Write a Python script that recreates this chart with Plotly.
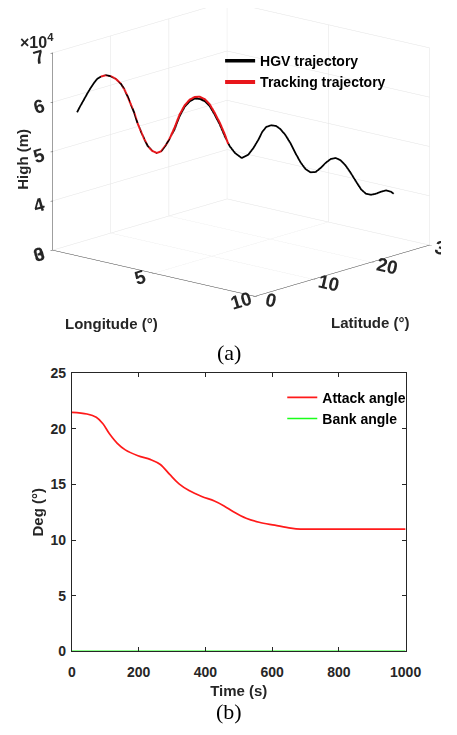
import plotly.graph_objects as go

# ---- (a) 3D trajectory data ----
hgv_lon = [1.00, 1.09, 1.18, 1.27, 1.36, 1.45, 1.53, 1.63, 1.76, 1.89, 2.03, 2.16, 2.25, 2.34,
           2.43, 2.52, 2.60, 2.69, 2.78, 2.87, 2.99, 3.11, 3.23, 3.36, 3.45, 3.58, 3.72, 3.85,
           3.99, 4.12, 4.25, 4.39, 4.52, 4.65, 4.79, 4.92, 5.05, 5.19, 5.37, 5.54, 5.68, 5.81,
           5.91, 6.02, 6.15, 6.28, 6.39, 6.52, 6.66, 6.79, 6.93, 7.06, 7.19, 7.33, 7.46, 7.59,
           7.73, 7.86, 7.99, 8.13, 8.26, 8.40, 8.53, 8.66, 8.80, 8.93, 9.06, 9.20, 9.33, 9.40]
hgv_lat = [0.73, 1.00, 1.27, 1.53, 1.80, 2.07, 2.33, 2.61, 3.01, 3.41, 3.81, 4.21, 4.47, 4.74,
           5.01, 5.28, 5.54, 5.81, 6.08, 6.34, 6.69, 7.07, 7.42, 7.82, 8.08, 8.48, 8.88, 9.29,
           9.69, 10.09, 10.49, 10.89, 11.29, 11.69, 12.09, 12.49, 12.89, 13.30, 13.83, 14.36,
           14.76, 15.16, 15.46, 15.78, 16.18, 16.58, 16.90, 17.30, 17.70, 18.11, 18.51, 18.91,
           19.31, 19.71, 20.11, 20.51, 20.91, 21.31, 21.71, 22.11, 22.52, 22.92, 23.32, 23.72,
           24.12, 24.52, 24.92, 25.32, 25.72, 25.93]
hgv_h = [58640, 59970, 61180, 62390, 63540, 64550, 65350, 65810, 66080, 65860, 65300, 64330,
         63250, 61760, 60040, 58350, 56310, 54610, 53040, 51670, 50640, 50160, 50500, 51820,
         52970, 54850, 57550, 59430, 60570, 61090, 61010, 60530, 59500, 57780, 55740, 53370,
         51330, 49950, 48920, 49570, 50920, 52590, 54140, 55150, 55480, 55320, 54700, 53530,
         51830, 49790, 47890, 46510, 45830, 45880, 46680, 47680, 48480, 48670, 48190, 47080,
         45580, 43880, 42300, 41340, 41120, 41310, 41700, 41970, 41670, 41260]

trk_lon = [1.63, 1.76, 1.89, 2.03, 2.16, 2.25, 2.34, 2.43, 2.52, 2.60, 2.69, 2.78, 2.87, 2.99,
           3.11, 3.23, 3.36, 3.45, 3.58, 3.72, 3.85, 3.99, 4.12, 4.25, 4.39, 4.52, 4.65, 4.79,
           4.92, 5.01]
trk_lat = [2.61, 3.01, 3.41, 3.81, 4.21, 4.47, 4.74, 5.01, 5.28, 5.54, 5.81, 6.08, 6.34, 6.69,
           7.07, 7.42, 7.82, 8.08, 8.48, 8.88, 9.29, 9.69, 10.09, 10.49, 10.89, 11.29, 11.69,
           12.09, 12.49, 12.76]
trk_h = [65810, 66080, 65860, 65300, 64330, 63250, 61760, 60040, 58350, 56310, 54610, 53040,
         51670, 50640, 50160, 50500, 51820, 52970, 55190, 57880, 59730, 60900, 61430, 61460,
         60960, 59870, 58130, 56090, 53740, 51800]

lon_ticks = [0, 5, 10]
lat_ticks = [0, 10, 20, 30]
h_ticks = [30000, 40000, 50000, 60000, 70000]
h_ticktext = ["3", "4", "5", "6", "7"]

# ---- (b) angle data ----
t = [0, 45, 73, 93, 112, 136, 160, 198, 236, 265, 293, 322, 351, 389, 427, 456, 484, 522,
     561, 608, 656, 685, 750, 850, 1000]
attack = [21.48, 21.33, 21.04, 20.46, 19.58, 18.70, 18.11, 17.58, 17.23, 16.79, 15.90, 15.03,
          14.45, 13.92, 13.51, 13.07, 12.54, 11.96, 11.60, 11.34, 11.08, 10.99, 10.99, 10.99, 10.99]
bank_t = [0, 1000]
bank = [0, 0]

FONT = "Liberation Sans"
TXT = "#262626"

fig = go.Figure()
fig.add_trace(go.Scatter3d(x=hgv_lon, y=hgv_lat, z=hgv_h, mode="lines",
                           line=dict(color="black", width=3.5), name="HGV trajectory",
                           legend="legend"))
fig.add_trace(go.Scatter3d(x=trk_lon, y=trk_lat, z=trk_h, mode="lines",
                           line=dict(color="#e8161b", width=4), name="Tracking trajectory",
                           legend="legend"))

fig.add_trace(go.Scatter(x=t, y=attack, mode="lines",
                         line=dict(color="#ff1a1a", width=1.7, shape="spline"),
                         name="Attack angle", legend="legend2", xaxis="x", yaxis="y"))
fig.add_trace(go.Scatter(x=bank_t, y=bank, mode="lines", line=dict(color="#1aff1a", width=1.7),
                         name="Bank angle", legend="legend2", xaxis="x", yaxis="y"))

ax3 = dict(showbackground=False, gridcolor="#e3e3e3", gridwidth=1, showline=True,
           linecolor="#404040", linewidth=1, ticks="outside", ticklen=3, tickcolor="#404040",
           tickfont=dict(family=FONT, size=15, color=TXT, weight="bold"),
           zeroline=False, showspikes=False, title=dict(text=""))
tfont = dict(family=FONT, size=15, color=TXT, weight="bold")

# camera: MATLAB-like view, orthographic; center offset places the box in the domain
s = 1.564
cen = dict(x=-0.0495, y=-0.1065, z=-0.1764)
vdir = (0.661, -0.750, 0.268)
dist = 2.5

fig.update_layout(
    width=457, height=735, paper_bgcolor="white", plot_bgcolor="white",
    margin=dict(l=0, r=0, t=0, b=0),
    scene=dict(
        domain=dict(x=[0.0, 1.0], y=[0.52, 1.0]),
        xaxis=dict(ax3, range=[0, 10], tickvals=lon_ticks),
        yaxis=dict(ax3, range=[0, 30], tickvals=lat_ticks),
        zaxis=dict(ax3, range=[30000, 70000], tickvals=h_ticks, ticktext=h_ticktext),
        aspectmode="manual", aspectratio=dict(x=1 * s, y=0.978 * s, z=0.757 * s),
        camera=dict(eye=dict(x=cen["x"] + vdir[0] * dist, y=cen["y"] + vdir[1] * dist,
                             z=cen["z"] + vdir[2] * dist),
                    center=cen, up=dict(x=0, y=0, z=1),
                    projection=dict(type="orthographic")),
    ),
    xaxis=dict(domain=[0.1554, 0.919], range=[0, 1000], tickvals=[0, 200, 400, 600, 800, 1000],
               showline=True, linecolor=TXT, linewidth=1, mirror="ticks", ticks="inside",
               ticklen=4, tickcolor=TXT, showgrid=False, zeroline=False, ticklabelstandoff=8,
               tickfont=dict(family=FONT, size=14, color=TXT, weight="bold"),
               title=dict(text="Time (s)", font=tfont, standoff=6)),
    yaxis=dict(domain=[0.1052, 0.4921], range=[0, 25], tickvals=[0, 5, 10, 15, 20, 25],
               showline=True, linecolor=TXT, linewidth=1, mirror="ticks", ticks="inside",
               ticklen=4, tickcolor=TXT, showgrid=False, zeroline=False, ticklabelstandoff=2,
               tickfont=dict(family=FONT, size=14, color=TXT, weight="bold"),
               title=dict(text="Deg (°)", font=tfont, standoff=3)),
    legend=dict(x=226 / 457, y=1 - 38 / 735, xanchor="left", yanchor="top",
                bgcolor="rgba(0,0,0,0)",
                font=dict(family=FONT, size=14, color="black", weight="bold"), itemwidth=30,
                tracegroupgap=0),
    legend2=dict(x=291 / 457, y=1 - 382 / 735, xanchor="left", yanchor="top",
                 bgcolor="rgba(0,0,0,0)",
                 font=dict(family=FONT, size=14, color="black", weight="bold"), itemwidth=30,
                 tracegroupgap=0),
    showlegend=True,
    annotations=[
        dict(text="×10<sup>4</sup>", x=15 / 457, y=1 - 34 / 735, xref="paper", yref="paper",
             xanchor="left", yanchor="middle", showarrow=False,
             font=dict(family=FONT, size=16, color=TXT, weight="bold")),
        dict(text="High (m)", x=20 / 457, y=1 - 155 / 735, xref="paper", yref="paper",
             xanchor="center", yanchor="middle", showarrow=False, textangle=-90, font=tfont),
        dict(text="Longitude (°)", x=112 / 457, y=1 - 323 / 735, xref="paper", yref="paper",
             xanchor="center", yanchor="middle", showarrow=False, font=tfont),
        dict(text="Latitude (°)", x=383 / 457, y=1 - 321 / 735, xref="paper", yref="paper",
             xanchor="center", yanchor="middle", showarrow=False, font=tfont),
        dict(text="(a)", x=235 / 457, y=1 - 352 / 735, xref="paper", yref="paper",
             xanchor="center", yanchor="middle", showarrow=False,
             font=dict(family="Liberation Serif", size=22, color="black")),
        dict(text="(b)", x=235 / 457, y=1 - 719 / 735, xref="paper", yref="paper",
             xanchor="center", yanchor="middle", showarrow=False,
             font=dict(family="Liberation Serif", size=22, color="black")),
    ],
)

fig.write_html("out.html")
